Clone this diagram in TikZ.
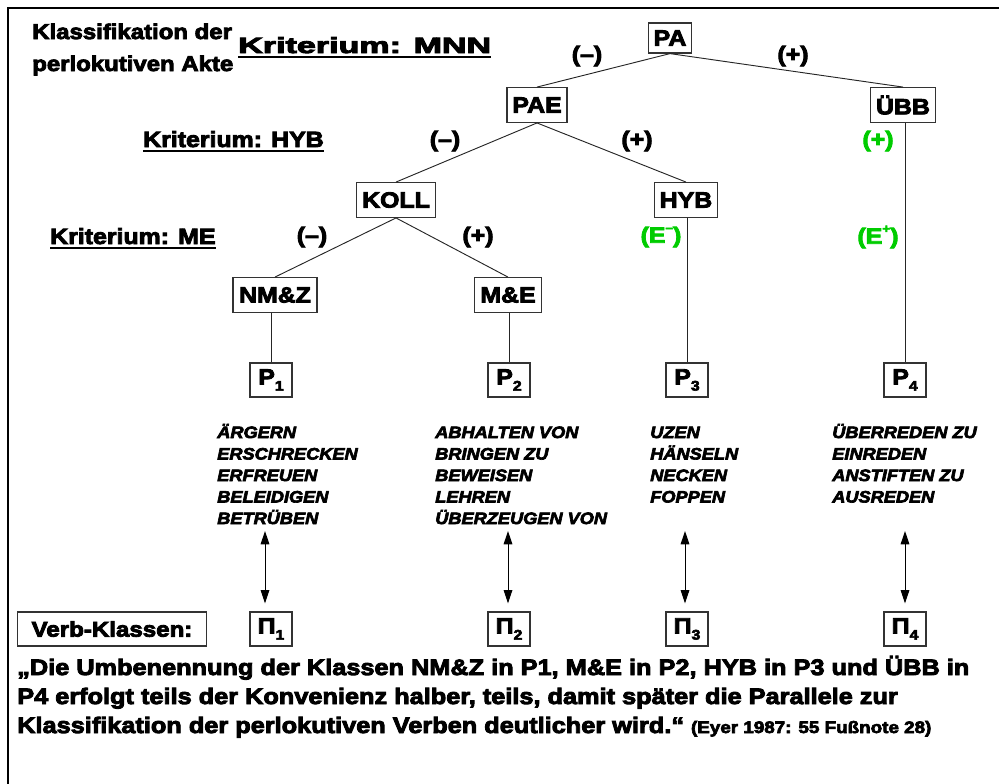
\documentclass[tikz,border=0pt]{standalone}
\usepackage{fontspec}
\usetikzlibrary{arrows.meta}
\newfontfamily\heavy{Liberation Sans Bold}[FakeBold=4, FakeStretch=1.13]
\newfontfamily\heavyit{Liberation Sans Bold Italic}[FakeBold=4, FakeStretch=1.1]
\definecolor{signgreen}{RGB}{0,204,0}
\newcommand{\lowidx}[1]{\raisebox{-0.28em}{\fontsize{10.5pt}{10.5pt}\selectfont #1}}
\newcommand{\highsign}[1]{\raisebox{0.5em}{\fontsize{9pt}{9pt}\selectfont #1}}
\begin{document}
\begin{tikzpicture}[x=0.75pt,y=-0.75pt,
  every node/.style={font=\heavy\fontsize{16.5pt}{19pt}\selectfont, inner sep=0pt},
  box/.style={draw=black!80, line width=0.9pt, fill=white, minimum height=26pt, inner xsep=4pt},
  idxbox/.style={box, minimum width=31.5pt, minimum height=25.5pt},
  branch/.style={line width=0.7pt, black!85},
  greensign/.style={text=signgreen},
  crit/.style={anchor=base west},
  critline/.style={line width=1.6pt},
  titletext/.style={anchor=base west, font=\heavy\fontsize{15.9pt}{18pt}\selectfont},
  verbs/.style={font=\heavyit\fontsize{12.4pt}{16pt}\selectfont, anchor=base west},
  quote/.style={font=\heavy\fontsize{16.8pt}{19pt}\selectfont, anchor=base west},
  link/.style={line width=0.75pt, {Triangle[length=10pt,width=6.5pt]}-{Triangle[length=10pt,width=6.5pt]}, shorten >=6pt}
]
\useasboundingbox (0,0) rectangle (999,783);

% frame: rules along the top and left edges
\coordinate (fc) at (8,8);
\coordinate (fr) at (1005,8);
\coordinate (fb) at (8,790);
\draw[line width=2.2pt] (fr) -- (fc) -- (fb);

% title
\node[titletext] (title1) at (32,39) {Klassifikation der};
\node[titletext] (title2) at (32,71) {perlokutiven Akte};

% criteria labels
\node[crit] (kmnn) at (238,53) {\scalebox{1.37}[1]{Kriterium: MNN}};
\node[crit] (khyb) at (143,147) {Kriterium: HYB};
\node[crit] (kme)  at (50,244)  {Kriterium: ME};
\foreach \k in {kmnn,khyb,kme}
  \draw[critline] ([yshift=-3pt]\k.base west) -- ([yshift=-3pt]\k.base east);

% tree nodes
\node[box, minimum width=32pt, minimum height=22.5pt] (PA) at (670,38) {PA};
\node[box, minimum width=44pt] (PAE) at (537,105) {PAE};
\node[box, minimum width=44pt] (UBB) at (903,105) {ÜBB};
\node[box, minimum width=56pt] (KOLL) at (396,200) {KOLL};
\node[box, minimum width=44pt] (HYB) at (686,200) {HYB};
\node[box, minimum width=63pt] (NMZ) at (275,295) {NM\&Z};
\node[box, minimum width=50pt] (ME) at (508,295) {M\&E};

\node[idxbox] (P1) at (271,380) {P\lowidx{1}};
\node[idxbox] (P2) at (509,380) {P\lowidx{2}};
\node[idxbox] (P3) at (687,380) {P\lowidx{3}};
\node[idxbox] (P4) at (905,380) {P\lowidx{4}};

% branches
\draw[branch] (PA.south) -- (PAE.north);
\draw[branch] (PA.south) -- (UBB.north);
\draw[branch] (PAE.south) -- (KOLL.north);
\draw[branch] (PAE.south) -- (HYB.north);
\draw[branch] (KOLL.south) -- (NMZ.north);
\draw[branch] (KOLL.south) -- (ME.north);
\draw[branch] (P1.north |- NMZ.south) -- (P1.north);
\draw[branch] (P2.north |- ME.south) -- (P2.north);
\draw[branch] (P3.north |- HYB.south) -- (P3.north);
\draw[branch] (P4.north |- UBB.south) -- (P4.north);

% branch values
\node (s1) at (587,56) {(–)};
\node (s2) at (793,56) {(+)};
\node (s3) at (445,141) {(–)};
\node (s4) at (637,141) {(+)};
\node[greensign] (s5) at (878,141) {(+)};
\node (s6) at (312,237) {(–)};
\node (s7) at (478,237) {(+)};
\node[greensign] (s8) at (661,237) {(E\highsign{–})};
\node[greensign] (s9) at (878,237) {(E\highsign{+})};

% verb lists
\foreach \w [count=\i] in {ÄRGERN,ERSCHRECKEN,ERFREUEN,BELEIDIGEN,BETRÜBEN}
  \node[verbs] (va-\i) at (217,{438+(\i-1)*21.5}) {\w};
\foreach \w [count=\i] in {ABHALTEN VON,BRINGEN ZU,BEWEISEN,LEHREN,ÜBERZEUGEN VON}
  \node[verbs] (vb-\i) at (435,{438+(\i-1)*21.5}) {\w};
\foreach \w [count=\i] in {UZEN,HÄNSELN,NECKEN,FOPPEN}
  \node[verbs] (vc-\i) at (650,{438+(\i-1)*21.5}) {\w};
\foreach \w [count=\i] in {ÜBERREDEN ZU,EINREDEN,ANSTIFTEN ZU,AUSREDEN}
  \node[verbs] (vd-\i) at (832,{438+(\i-1)*21.5}) {\w};

% verb classes
\node[box, minimum width=142pt, minimum height=25.5pt, font=\heavy\fontsize{16pt}{18pt}\selectfont] (VK) at (112,629) {Verb-Klassen:};
\node[idxbox] (Pi1) at (271,629) {Π\lowidx{1}};
\node[idxbox] (Pi2) at (509,629) {Π\lowidx{2}};
\node[idxbox] (Pi3) at (687,629) {Π\lowidx{3}};
\node[idxbox] (Pi4) at (905,629) {Π\lowidx{4}};

\coordinate (a1) at (265,531);
\coordinate (a2) at (508,531);
\coordinate (a3) at (685,531);
\coordinate (a4) at (905,531);
\draw[link] (a1) -- (a1 |- Pi1.north);
\draw[link] (a2) -- (a2 |- Pi2.north);
\draw[link] (a3) -- (a3 |- Pi3.north);
\draw[link] (a4) -- (a4 |- Pi4.north);

% quotation
\node[quote] (q1) at (17,675) {„Die Umbenennung der Klassen NM\&Z in P1, M\&E in P2, HYB in P3 und ÜBB in};
\node[quote] (q2) at (17,704) {P4 erfolgt teils der Konvenienz halber, teils, damit später die Parallele zur};
\node[quote] (q3) at (17,733) {Klassifikation der perlokutiven Verben deutlicher wird.“ {\fontsize{12.5pt}{13pt}\selectfont(Eyer 1987: 55 Fußnote 28)}};
\end{tikzpicture}
\end{document}
